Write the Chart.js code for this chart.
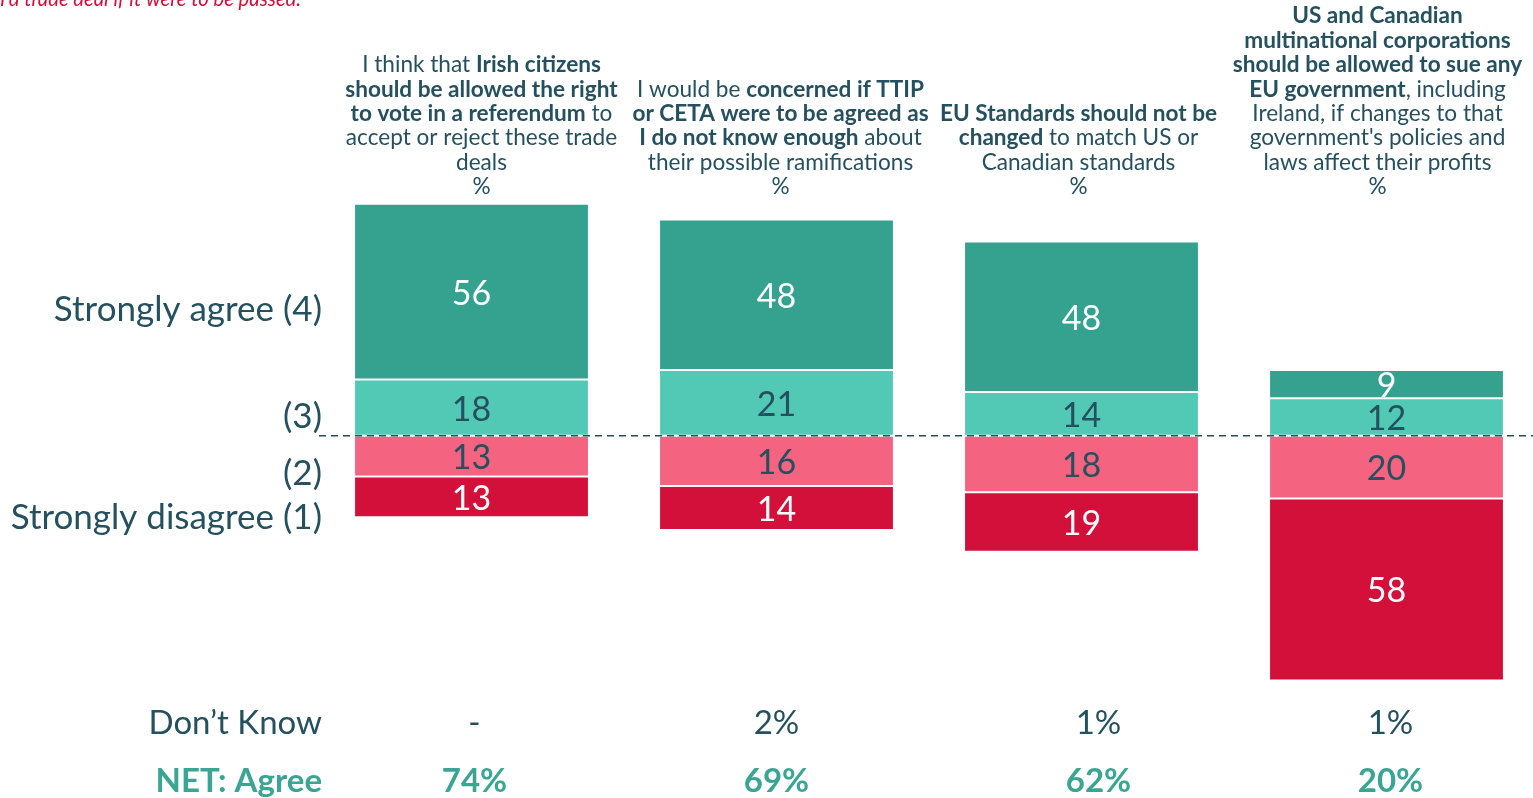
<!DOCTYPE html>
<html>
<head>
<meta charset="utf-8">
<script src="https://cdn.jsdelivr.net/npm/chart.js@4.4.1/dist/chart.umd.min.js"></script>
<style>
  html, body { margin: 0; padding: 0; background: #fff; overflow: hidden; }
  #wrap { position: absolute; left: 0; top: 0; width: 1545px; height: 798px; }
</style>
</head>
<body>
<div id="wrap"><canvas id="chart" width="1545" height="798"></canvas></div>
<script>
// data
const categories = ['Referendum', 'Concerned', 'EU Standards', 'Sue governments'];
const headers = [
    ['I think that **Irish citizens**', '**should be allowed the right**', '**to vote in a referendum** to', 'accept or reject these trade', 'deals', '%'],
    ['I would be **concerned if TTIP**', '**or CETA were to be agreed as**', '**I do not know enough** about', 'their possible ramifications', '%'],
    ['**EU Standards should not be**', '**changed** to match US or', 'Canadian standards', '%'],
    ['**US and Canadian**', '**multinational corporations**', '**should be allowed to sue any**', '**EU government**, including', 'Ireland, if changes to that', "government's policies and", 'laws affect their profits', '%']
];
const stronglyAgree = [56, 48, 48, 9];
const agree = [18, 21, 14, 12];
const disagree = [13, 16, 18, 20];
const stronglyDisagree = [13, 14, 19, 58];
const dontKnow = ['-', '2%', '1%', '1%'];
const netAgree = ['74%', '69%', '62%', '20%'];
const scaleLabels = ['Strongly agree (4)', '(3)', '(2)', 'Strongly disagree (1)'];
const subtitle = "I'd trade deal if it were to be passed.";

const DARK = '#25505f';
const FONT = 'Lato, "Open Sans", sans-serif';

// helper: draw a line with **bold** parts, centred at x
function drawMixedLine(ctx, line, x, y, size) {
    const parts = line.split('**').map((t, i) => ({ text: t, bold: i % 2 === 1 })).filter(p => p.text);
    let total = 0;
    parts.forEach(p => {
        ctx.font = (p.bold ? 'bold ' : '') + size + 'px ' + FONT;
        p.w = ctx.measureText(p.text).width;
        total += p.w;
    });
    let cx = x - total / 2;
    ctx.textAlign = 'left';
    parts.forEach(p => {
        ctx.font = (p.bold ? 'bold ' : '') + size + 'px ' + FONT;
        ctx.fillText(p.text, cx, y);
        cx += p.w;
    });
}

const textPlugin = {
    id: 'textPlugin',
    afterDatasetsDraw(chart) {
        const ctx = chart.ctx;
        const area = chart.chartArea;
        const y0 = chart.scales.y.getPixelForValue(0);
        const xs = chart.getDatasetMeta(0).data.map(b => b.x);
        ctx.save();

        // dashed midline
        ctx.strokeStyle = DARK;
        ctx.lineWidth = 1.6;
        ctx.setLineDash([7, 5]);
        ctx.beginPath();
        ctx.moveTo(area.left, y0);
        ctx.lineTo(chart.width, y0);
        ctx.stroke();
        ctx.setLineDash([]);

        // values inside segments
        const textColors = ['#25505f', '#ffffff', '#25505f', '#ffffff'];
        chart.data.datasets.forEach((ds, di) => {
            chart.getDatasetMeta(di).data.forEach((bar, i) => {
                const v = Math.abs(ds.data[i]);
                ctx.fillStyle = textColors[di];
                ctx.font = '34px ' + FONT;
                ctx.textAlign = 'center';
                ctx.textBaseline = 'middle';
                ctx.fillText(v, bar.x, (bar.y + bar.base) / 2 + 2);
            });
        });

        // headers
        ctx.fillStyle = DARK;
        ctx.textBaseline = 'middle';
        const hdrShift = [10, 4, -3, -9];
        headers.forEach((lines, i) => {
            lines.forEach((line, j) => {
                const y = 187 - (lines.length - 1 - j) * 24.4;
                drawMixedLine(ctx, line, xs[i] + hdrShift[i], y, 22.6);
            });
        });

        // scale labels on the left
        ctx.textAlign = 'right';
        ctx.font = '35px ' + FONT;
        const labelY = [310, 417, 474, 518];
        scaleLabels.forEach((t, i) => ctx.fillText(t, 322, labelY[i]));

        // bottom rows
        const rowShift = [3, 0, 17, 4];
        ctx.fillStyle = DARK;
        ctx.font = '33px ' + FONT;
        ctx.fillText('Don\u2019t Know', 322, 723);
        ctx.textAlign = 'center';
        dontKnow.forEach((t, i) => ctx.fillText(t, xs[i] + rowShift[i], 723));

        ctx.fillStyle = '#3aa593';
        ctx.font = 'bold 33px ' + FONT;
        ctx.textAlign = 'right';
        ctx.fillText('NET: Agree', 322, 781);
        ctx.textAlign = 'center';
        netAgree.forEach((t, i) => ctx.fillText(t, xs[i] + rowShift[i], 781));

        // cropped subtitle at the top
        ctx.fillStyle = '#d0103a';
        ctx.font = 'italic 20.3px ' + FONT;
        ctx.textAlign = 'left';
        ctx.textBaseline = 'alphabetic';
        ctx.fillText(subtitle, 0, 6);

        ctx.restore();
    }
};

new Chart(document.getElementById('chart'), {
    type: 'bar',
    data: {
        labels: categories,
        datasets: [
            { label: '(3)', data: agree, backgroundColor: '#52c9b4' },
            { label: 'Strongly agree (4)', data: stronglyAgree, backgroundColor: '#34a28f' },
            { label: '(2)', data: disagree.map(v => -v), backgroundColor: '#f4637f' },
            { label: 'Strongly disagree (1)', data: stronglyDisagree.map(v => -v), backgroundColor: '#d2103a' }
        ].map(ds => ({
            ...ds,
            borderColor: '#ffffff',
            borderWidth: 1,
            borderSkipped: false,
            barPercentage: 0.77,
            categoryPercentage: 1
        }))
    },
    options: {
        responsive: false,
        devicePixelRatio: 1,
        animation: false,
        layout: { padding: { left: 319, right: 6, top: 185, bottom: 80 } },
        plugins: { legend: { display: false }, tooltip: { enabled: false } },
        scales: {
            x: { stacked: true, display: false },
            y: { stacked: true, display: false, min: -90, max: 80 }
        }
    },
    plugins: [textPlugin]
});
</script>
</body>
</html>
